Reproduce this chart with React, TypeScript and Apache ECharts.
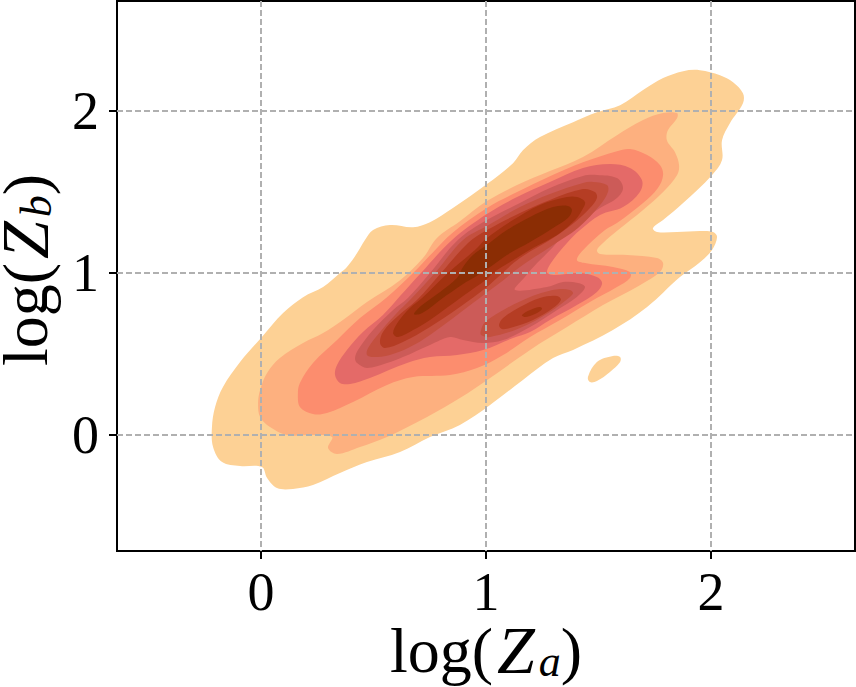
import React, { useEffect, useRef } from "react";
import * as echarts from "echarts";

type Pt = [number, number];

const xTicks = [0, 1, 2];
const yTicks = [0, 1, 2];
const levelColors = ["#FDD195", "#FDB07F", "#FC8D6E", "#E46A68", "#CC5B58", "#C4503F", "#B53D24", "#A23210", "#8B2D04"];

const level1Main: Pt[] = [[-0.218,0.049],[-0.213,-0.074],[-0.173,-0.167],[-0.093,-0.191],[0.004,-0.198],[0.027,-0.265],[0.071,-0.327],[0.142,-0.333],[0.231,-0.309],[0.351,-0.235],[0.471,-0.167],[0.618,-0.105],[0.751,-0.012],[0.884,0.062],[1.018,0.185],[1.164,0.34],[1.298,0.475],[1.387,0.525],[1.564,0.648],[1.716,0.79],[1.862,0.975],[1.951,1.067],[2.004,1.141],[2.027,1.222],[2.009,1.253],[1.951,1.259],[1.849,1.253],[1.76,1.253],[1.742,1.277],[1.787,1.327],[1.876,1.432],[2.004,1.604],[2.049,1.697],[2.049,1.82],[2.084,1.925],[2.142,2.048],[2.142,2.11],[2.098,2.178],[2.04,2.221],[1.951,2.252],[1.876,2.246],[1.787,2.203],[1.698,2.129],[1.596,2.036],[1.493,1.993],[1.387,1.931],[1.24,1.839],[1.164,1.758],[1.12,1.678],[1.004,1.549],[0.853,1.401],[0.751,1.314],[0.676,1.283],[0.573,1.296],[0.498,1.265],[0.462,1.203],[0.427,1.123],[0.382,1.037],[0.351,1.0],[0.276,0.913],[0.187,0.851],[0.098,0.753],[0.004,0.605],[-0.093,0.45],[-0.169,0.296],[-0.204,0.173]];
const level1Blob: Pt[] = [[1.453,0.358],[1.493,0.45],[1.564,0.487],[1.596,0.481],[1.596,0.45],[1.551,0.389],[1.493,0.333],[1.462,0.327]];
const level2Ring: Pt[] = [[-0.013,0.197],[-0.004,0.278],[0.027,0.383],[0.084,0.475],[0.187,0.568],[0.276,0.629],[0.364,0.71],[0.471,0.821],[0.618,0.956],[0.72,1.092],[0.782,1.216],[0.884,1.32],[1.004,1.444],[1.138,1.543],[1.284,1.629],[1.431,1.716],[1.582,1.851],[1.698,1.944],[1.787,1.987],[1.849,1.987],[1.849,1.956],[1.809,1.882],[1.804,1.82],[1.84,1.746],[1.858,1.666],[1.849,1.604],[1.787,1.5],[1.698,1.389],[1.587,1.265],[1.52,1.185],[1.493,1.141],[1.507,1.117],[1.627,1.111],[1.76,1.092],[1.787,1.061],[1.773,1.006],[1.684,0.925],[1.52,0.802],[1.36,0.666],[1.196,0.525],[1.018,0.352],[0.884,0.228],[0.738,0.111],[0.56,-0.012],[0.44,-0.074],[0.338,-0.117],[0.298,-0.08],[0.316,-0.012],[0.231,0],[0.116,0],[0.04,0.049],[-0.004,0.111]];
const level3Ring: Pt[] = [[0.164,0.259],[0.173,0.321],[0.231,0.444],[0.338,0.586],[0.44,0.722],[0.56,0.851],[0.676,1.0],[0.773,1.141],[0.849,1.246],[1.004,1.401],[1.138,1.5],[1.284,1.598],[1.431,1.684],[1.582,1.752],[1.64,1.765],[1.716,1.728],[1.773,1.666],[1.787,1.604],[1.764,1.525],[1.698,1.432],[1.582,1.308],[1.529,1.265],[1.431,1.141],[1.404,1.08],[1.44,1.061],[1.564,1.037],[1.64,1.006],[1.64,0.969],[1.582,0.913],[1.462,0.821],[1.329,0.71],[1.196,0.605],[1.076,0.494],[0.96,0.413],[0.84,0.37],[0.676,0.358],[0.56,0.309],[0.409,0.204],[0.293,0.136],[0.231,0.13],[0.173,0.173]];
const level4Ring: Pt[] = [[0.329,0.37],[0.338,0.432],[0.382,0.525],[0.453,0.636],[0.542,0.741],[0.618,0.858],[0.711,1.0],[0.849,1.204],[1.004,1.364],[1.138,1.469],[1.284,1.562],[1.431,1.648],[1.551,1.673],[1.64,1.648],[1.693,1.574],[1.684,1.5],[1.609,1.407],[1.507,1.358],[1.418,1.265],[1.36,1.185],[1.298,1.08],[1.271,1.006],[1.298,0.988],[1.418,1.0],[1.493,0.975],[1.516,0.938],[1.493,0.883],[1.404,0.802],[1.284,0.71],[1.196,0.636],[1.12,0.599],[0.987,0.525],[0.871,0.494],[0.751,0.481],[0.649,0.444],[0.484,0.352],[0.396,0.315],[0.351,0.321]];
const level5Ring: Pt[] = [[0.418,0.475],[0.431,0.525],[0.498,0.648],[0.587,0.772],[0.653,0.846],[0.751,1.0],[0.875,1.204],[1.004,1.327],[1.151,1.432],[1.284,1.525],[1.431,1.599],[1.493,1.605],[1.582,1.586],[1.609,1.525],[1.582,1.463],[1.507,1.401],[1.44,1.339],[1.36,1.265],[1.298,1.16],[1.227,1.061],[1.173,0.975],[1.129,0.895],[1.271,0.913],[1.342,0.944],[1.409,0.938],[1.44,0.913],[1.404,0.852],[1.316,0.772],[1.196,0.667],[1.076,0.586],[0.987,0.568],[0.898,0.586],[0.84,0.605],[0.751,0.556],[0.631,0.481],[0.56,0.444],[0.471,0.414],[0.427,0.444]];
const level6Main: Pt[] = [[0.471,0.494],[0.476,0.537],[0.529,0.636],[0.604,0.753],[0.662,0.833],[0.773,1.0],[0.898,1.204],[1.004,1.29],[1.151,1.407],[1.284,1.488],[1.431,1.556],[1.476,1.562],[1.538,1.543],[1.542,1.5],[1.507,1.42],[1.409,1.278],[1.298,1.173],[1.151,1.037],[1.049,0.926],[0.942,0.815],[0.751,0.617],[0.662,0.543],[0.573,0.494],[0.498,0.481]];
const level6Lobe: Pt[] = [[0.978,0.648],[0.996,0.698],[1.093,0.784],[1.196,0.852],[1.262,0.883],[1.329,0.901],[1.373,0.895],[1.387,0.876],[1.373,0.852],[1.284,0.759],[1.151,0.66],[1.018,0.605],[0.978,0.617]];
const level7Main: Pt[] = [[0.529,0.568],[0.542,0.636],[0.604,0.728],[0.693,0.833],[0.8,1.0],[0.92,1.185],[1.004,1.265],[1.151,1.37],[1.284,1.451],[1.431,1.518],[1.484,1.5],[1.493,1.463],[1.462,1.401],[1.396,1.315],[1.298,1.216],[1.151,1.092],[1.049,0.969],[1.004,0.913],[0.884,0.79],[0.751,0.667],[0.631,0.574],[0.551,0.537]];
const level7Lobe: Pt[] = [[1.058,0.679],[1.076,0.722],[1.151,0.79],[1.24,0.846],[1.316,0.858],[1.333,0.833],[1.298,0.784],[1.209,0.71],[1.107,0.66],[1.071,0.654]];
const level8Main: Pt[] = [[0.587,0.63],[0.609,0.698],[0.662,0.784],[0.716,0.846],[0.831,1.0],[0.951,1.142],[1.004,1.216],[1.12,1.327],[1.24,1.42],[1.36,1.469],[1.404,1.469],[1.44,1.438],[1.427,1.389],[1.396,1.327],[1.316,1.235],[1.209,1.154],[1.107,1.068],[1.031,1.0],[1.004,0.963],[0.898,0.858],[0.751,0.71],[0.676,0.648],[0.609,0.605]];
const level8Lobe: Pt[] = [[1.16,0.741],[1.196,0.772],[1.24,0.79],[1.249,0.778],[1.218,0.747],[1.173,0.728]];
const level9Ring: Pt[] = [[0.68,0.747],[0.716,0.802],[0.796,0.883],[0.871,0.969],[0.898,1.037],[0.942,1.111],[1.004,1.173],[1.093,1.265],[1.196,1.346],[1.298,1.407],[1.364,1.414],[1.382,1.389],[1.364,1.339],[1.298,1.278],[1.196,1.191],[1.093,1.111],[1.018,1.037],[0.951,0.975],[0.898,0.932],[0.796,0.833],[0.751,0.784],[0.707,0.747]];

const rings: { level: number; ring: Pt[] }[] = [
  { level: 0, ring: level1Main }, { level: 0, ring: level1Blob },
  { level: 1, ring: level2Ring }, { level: 2, ring: level3Ring },
  { level: 3, ring: level4Ring }, { level: 4, ring: level5Ring },
  { level: 5, ring: level6Main }, { level: 5, ring: level6Lobe },
  { level: 6, ring: level7Main }, { level: 6, ring: level7Lobe },
  { level: 7, ring: level8Main }, { level: 7, ring: level8Lobe },
  { level: 8, ring: level9Ring },
];

const SERIF = "'Liberation Serif', serif";
const richName = () => ({
  r: { fontFamily: SERIF, fontSize: 64, lineHeight: 66, color: "#000" },
  z: { fontFamily: SERIF, fontStyle: "italic", fontSize: 68, lineHeight: 66, color: "#000", padding: [0, 4, 0, 4] },
  s: { fontFamily: SERIF, fontStyle: "italic", fontSize: 44, lineHeight: 26, verticalAlign: "bottom", color: "#000" },
});

const gridLine = { show: true, lineStyle: { color: "#b0b0b0", type: [6, 3], width: 2 } };

export default function App() {
  const ref = useRef<HTMLDivElement>(null);
  useEffect(() => {
    const chart = echarts.init(ref.current!, undefined, { renderer: "svg" });
    chart.setOption({
      animation: false,
      grid: { left: 117, top: 1, width: 738, height: 550, outerBoundsMode: "none", containLabel: false, show: true, borderColor: "#000", borderWidth: 2, backgroundColor: "transparent" },
      xAxis: {
        type: "value", min: -0.64, max: 2.64, z: 10,
        axisLine: { show: false, onZero: false },
        axisTick: { show: true, length: 8, customValues: xTicks, lineStyle: { color: "#000", width: 2 } },
        axisLabel: { customValues: xTicks, formatter: (v: number) => String(v), fontFamily: SERIF, fontSize: 54, color: "#000", margin: 14 },
        splitLine: gridLine,
        name: "{r|log(}{z|Z}{s|a}{r|)}", nameLocation: "middle", nameGap: 66, nameMoveOverlap: false,
        nameTextStyle: { rich: richName() },
      },
      yAxis: {
        type: "value", min: -0.716, max: 2.679, z: 10,
        axisLine: { show: false, onZero: false },
        axisTick: { show: true, length: 8, customValues: yTicks, lineStyle: { color: "#000", width: 2 } },
        axisLabel: { customValues: yTicks, formatter: (v: number) => String(v), fontFamily: SERIF, fontSize: 54, color: "#000", margin: 18 },
        splitLine: gridLine,
        name: "{r|log(}{z|Z}{s|b}{r|)}", nameLocation: "middle", nameGap: 59, nameMoveOverlap: false, nameRotate: 90,
        nameTextStyle: { rich: richName(), padding: [0, 0, 0, 12] },
      },
      series: [{
        type: "custom", coordinateSystem: "cartesian2d", silent: true, z: 2, clip: false,
        data: rings.map((_, i) => [i]),
        renderItem: (params: any, api: any) => {
          const r = rings[params.dataIndex];
          return {
            type: "polygon",
            shape: { points: r.ring.map((p) => api.coord(p)), smooth: 0.35 },
            style: { fill: levelColors[r.level] },
          };
        },
      }],
    });
    return () => chart.dispose();
  }, []);
  return <div ref={ref} style={{ position: "absolute", left: 0, top: 0, width: 856, height: 687 }} />;
}
